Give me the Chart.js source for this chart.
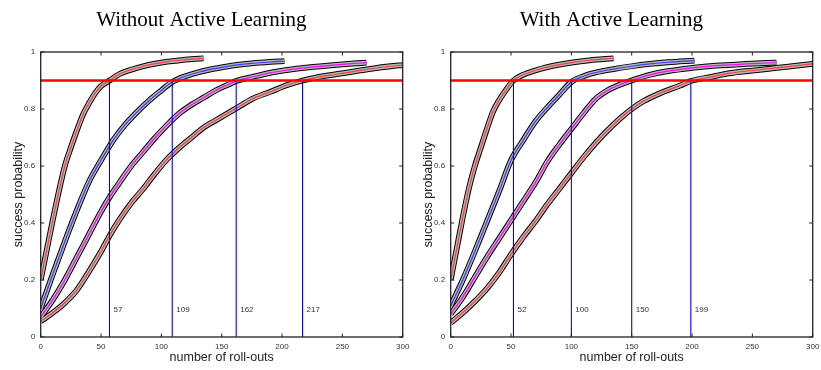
<!DOCTYPE html>
<html>
<head>
<meta charset="utf-8">
<script src="https://cdn.jsdelivr.net/npm/chart.js"></script>
<style>
  html, body { margin: 0; padding: 0; background: #fff; }
  body { width: 821px; height: 370px; position: relative; overflow: hidden; }
  .wrap { position: absolute; top: 0; height: 370px; }
</style>
</head>
<body>
<div class="wrap" style="left:0;width:410px"><canvas id="cLeft" width="410" height="370"></canvas></div>
<div class="wrap" style="left:410px;width:411px"><canvas id="cRight" width="411" height="370"></canvas></div>
<script>
// ---------- data ----------
const xTickValues = [0, 50, 100, 150, 200, 250, 300];
const yTickValues = [0, 0.2, 0.4, 0.6, 0.8, 1];
const threshold = 0.9;

// Without Active Learning
const leftCurve1X = [0,5,10,15,20,25,30,35,40,45,50,57,65,75,85,95,105,115,125,135];
const leftCurve1Y = [0.20,0.305,0.41,0.51,0.60,0.665,0.725,0.78,0.82,0.855,0.88,0.90,0.922,0.938,0.95,0.959,0.966,0.971,0.975,0.978];
const leftCurve2X = [0,10,20,30,40,50,60,70,80,90,100,109,120,130,140,150,160,175,190,202];
const leftCurve2Y = [0.10,0.22,0.335,0.445,0.545,0.62,0.69,0.745,0.79,0.83,0.865,0.895,0.915,0.928,0.938,0.946,0.953,0.96,0.965,0.968];
const leftCurve3X = [0,10,20,30,40,50,57,65,75,85,95,105,115,125,135,145,155,162,175,190,205,220,240,255,270];
const leftCurve3Y = [0.07,0.13,0.20,0.28,0.36,0.44,0.49,0.54,0.60,0.65,0.70,0.745,0.785,0.815,0.84,0.865,0.885,0.898,0.912,0.927,0.937,0.945,0.953,0.958,0.963];
const leftCurve4X = [0,10,20,30,40,50,57,65,75,85,95,105,115,125,135,145,155,165,175,190,205,217,230,245,260,275,290,300];
const leftCurve4Y = [0.055,0.085,0.12,0.165,0.23,0.30,0.355,0.41,0.47,0.52,0.575,0.625,0.665,0.70,0.735,0.76,0.785,0.81,0.835,0.86,0.885,0.90,0.912,0.922,0.932,0.942,0.95,0.954];
const leftCrossings = [57, 109, 162, 217];

// With Active Learning
const rightCurve1X = [0,5,10,15,20,25,30,35,40,45,52,60,70,80,90,100,115,135];
const rightCurve1Y = [0.20,0.31,0.42,0.52,0.60,0.665,0.73,0.79,0.83,0.862,0.90,0.92,0.935,0.947,0.956,0.963,0.971,0.978];
const rightCurve2X = [0,10,20,30,40,50,60,70,80,90,100,110,120,135,150,165,180,202];
const rightCurve2Y = [0.11,0.20,0.30,0.405,0.51,0.62,0.69,0.755,0.805,0.85,0.895,0.915,0.928,0.94,0.95,0.958,0.964,0.97];
const rightCurve3X = [0,10,20,30,40,50,60,70,80,90,100,110,120,130,140,150,165,180,200,220,245,270];
const rightCurve3Y = [0.08,0.14,0.21,0.28,0.345,0.41,0.475,0.54,0.615,0.675,0.73,0.785,0.835,0.865,0.885,0.90,0.92,0.933,0.944,0.952,0.958,0.963];
const rightCurve4X = [0,10,20,30,40,50,60,70,80,90,100,110,120,130,140,150,160,175,190,199,215,230,250,270,285,300];
const rightCurve4Y = [0.05,0.085,0.125,0.17,0.225,0.29,0.35,0.405,0.465,0.52,0.575,0.63,0.68,0.725,0.765,0.80,0.828,0.858,0.882,0.898,0.912,0.925,0.935,0.944,0.951,0.958];
const rightCrossings = [52, 100, 150, 199];

const curveColors = ['#ff3a3a', '#3a3aff', '#ff00ff', '#ff3a3a'];
const crossLabelY = 0.095;

// ---------- chart ----------
const SANS = "'Liberation Sans', Arial, sans-serif";

const boxPlugin = {
  id: 'boxTicks',
  afterDatasetsDraw(chart) {
    const { ctx, chartArea: { left, right, top, bottom }, scales: { x, y } } = chart;
    const crossings = chart.options.plugins.boxTicks.crossings;
    ctx.save();
    ctx.fillStyle = '#333';
    ctx.font = '8px ' + SANS;
    ctx.textBaseline = 'middle';
    ctx.textAlign = 'left';
    crossings.forEach(v => {
      ctx.fillText(String(v), x.getPixelForValue(v) + 4, y.getPixelForValue(crossLabelY));
    });
    ctx.strokeStyle = '#222';
    ctx.lineWidth = 1.3;
    ctx.strokeRect(left, top, right - left, bottom - top);
    ctx.lineWidth = 1;
    ctx.beginPath();
    xTickValues.forEach(v => {
      const px = x.getPixelForValue(v);
      ctx.moveTo(px, bottom); ctx.lineTo(px, bottom - 3.5);
      ctx.moveTo(px, top); ctx.lineTo(px, top + 3.5);
    });
    yTickValues.forEach(v => {
      const py = y.getPixelForValue(v);
      ctx.moveTo(left, py); ctx.lineTo(left + 3.5, py);
      ctx.moveTo(right, py); ctx.lineTo(right - 3.5, py);
    });
    ctx.stroke();
    ctx.restore();
  }
};

function makeChart(id, title, xs, ys, crossings, rightPad) {
  const datasets = [];
  xs.forEach((cx, i) => {
    const pts = cx.map((xv, j) => ({ x: xv, y: ys[i][j] }));
    datasets.push({ data: pts, borderColor: '#000', borderWidth: 5.8, order: 40 });
    datasets.push({ data: pts, borderColor: '#b8b8b8', borderWidth: 3.8, order: 30 });
    datasets.push({ data: pts, borderColor: curveColors[i], borderWidth: 1.2, order: 20 });
  });
  crossings.forEach(v => {
    datasets.push({ data: [{ x: v, y: 0 }, { x: v, y: threshold }], borderColor: '#0000ff', borderWidth: 1.1,
      order: 10, cubicInterpolationMode: 'default', tension: 0 });
  });
  datasets.push({ data: [{ x: 0, y: threshold }, { x: 300, y: threshold }], borderColor: '#ff0000', borderWidth: 2.5,
    order: 1, cubicInterpolationMode: 'default', tension: 0 });

  return new Chart(document.getElementById(id), {
    type: 'line',
    data: { datasets },
    plugins: [boxPlugin],
    options: {
      responsive: false,
      animation: false,
      events: [],
      layout: { padding: { left: 0, right: rightPad, top: 0, bottom: 0 } },
      elements: {
        point: { radius: 0 },
        line: { cubicInterpolationMode: 'monotone', fill: false, borderCapStyle: 'butt' }
      },
      plugins: {
        legend: { display: false },
        tooltip: { enabled: false },
        title: {
          display: true,
          text: title,
          color: '#000',
          font: { family: "'Liberation Serif', 'Times New Roman', serif", size: 21, weight: 'normal', lineHeight: 1.2 },
          padding: { top: 8, bottom: 18.8 }
        },
        boxTicks: { crossings }
      },
      scales: {
        x: {
          type: 'linear', min: 0, max: 300,
          afterBuildTicks(s) { s.ticks = xTickValues.map(v => ({ value: v })); },
          afterFit(s) { s.height = 33; s.paddingLeft = 0; s.paddingRight = 0; },
          grid: { display: false, drawTicks: false },
          border: { display: false },
          ticks: { color: '#333', font: { family: SANS, size: 8 }, padding: 5, maxRotation: 0, autoSkip: false },
          title: { display: true, text: 'number of roll-outs', color: '#222', font: { family: SANS, size: 12.5, lineHeight: 1.2 }, padding: { top: 0, bottom: 5 } }
        },
        y: {
          type: 'linear', min: 0, max: 1,
          afterBuildTicks(s) { s.ticks = yTickValues.map(v => ({ value: v })); },
          afterFit(s) { s.width = 40.7; s.paddingTop = 0; s.paddingBottom = 0; },
          grid: { display: false, drawTicks: false },
          border: { display: false },
          ticks: { color: '#333', font: { family: SANS, size: 8 }, padding: 5.5, callback: v => String(Number(v.toFixed(1))) },
          title: { display: true, text: 'success probability', color: '#222', font: { family: SANS, size: 12.5, lineHeight: 1.2 }, padding: { top: 11.5, bottom: 0 } }
        }
      }
    }
  });
}

makeChart('cLeft', 'Without Active Learning',
  [leftCurve1X, leftCurve2X, leftCurve3X, leftCurve4X],
  [leftCurve1Y, leftCurve2Y, leftCurve3Y, leftCurve4Y],
  leftCrossings, 7.3);
makeChart('cRight', 'With Active Learning',
  [rightCurve1X, rightCurve2X, rightCurve3X, rightCurve4X],
  [rightCurve1Y, rightCurve2Y, rightCurve3Y, rightCurve4Y],
  rightCrossings, 8.3);
</script>
</body>
</html>
